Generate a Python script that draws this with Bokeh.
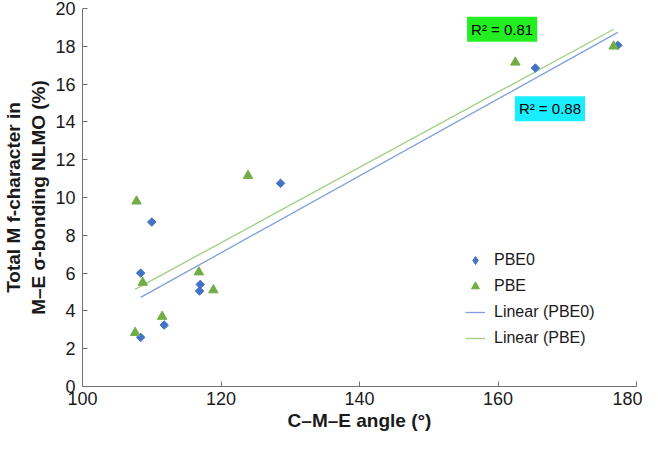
import numpy as np
from bokeh.plotting import figure
from bokeh.models import Range1d, FixedTicker, Label, Legend, LegendItem
from bokeh.embed import file_html
from bokeh.resources import INLINE

# Data
pbe0_angle = [108.4, 108.4, 110.0, 111.8, 116.9, 117.0, 128.6, 165.4, 177.3]
pbe0_fchar = [2.6, 6.0, 8.7, 3.25, 5.05, 5.4, 10.75, 16.85, 18.05]
pbe_angle = [107.6, 107.8, 108.7, 111.5, 116.8, 118.9, 123.9, 162.5, 176.7]
pbe_fchar = [2.85, 9.8, 5.5, 3.7, 6.05, 5.1, 11.15, 17.15, 18.0]
x_ticks = [100, 120, 140, 160, 180]
y_ticks = [0, 2, 4, 6, 8, 10, 12, 14, 16, 18, 20]
r2_pbe = "R² = 0.81"
r2_pbe0 = "R² = 0.88"

FONT = "Liberation Sans"
BLUE = "#4472C4"
GREEN = "#70AD47"
BLUE_LINE = "#7f9fdc"
GREEN_LINE = "#9fcf82"
TXT = "#1a1a1a"

p = figure(width=642, height=433, output_backend="svg", toolbar_location=None,
           x_range=Range1d(100, 180), y_range=Range1d(0, 20),
           min_border_top=8, min_border_right=6, min_border_left=0, min_border_bottom=0)
p.outline_line_color = None
p.grid.visible = False
p.background_fill_color = "white"

for ax in (p.xaxis[0], p.yaxis[0]):
    ax.axis_line_color = "#707070"
    ax.major_tick_line_color = "#707070"
    ax.major_tick_in = 5
    ax.major_tick_out = 0
    ax.minor_tick_line_color = None
    ax.major_label_text_font = FONT
    ax.major_label_text_font_size = "18px"
    ax.major_label_text_color = TXT
    ax.axis_label_text_font = FONT
    ax.axis_label_text_font_size = "19px"
    ax.axis_label_text_font_style = "bold"
    ax.axis_label_text_color = TXT

p.xaxis.ticker = FixedTicker(ticks=x_ticks)
p.yaxis.ticker = FixedTicker(ticks=y_ticks)
p.xaxis.axis_label = "C–M–E angle (°)"
p.yaxis.axis_label = "Total M f-character in\nM–E σ-bonding NLMO (%)"
p.xaxis.major_label_standoff = 5
p.xaxis.axis_label_standoff = 2
p.yaxis.major_label_standoff = 7
p.yaxis.axis_label_standoff = 3

# Linear trend lines (least squares through the data)
def trend(xs, ys):
    m, b = np.polyfit(xs, ys, 1)
    x0, x1 = min(xs), max(xs)
    return [x0, x1], [m * x0 + b, m * x1 + b]

tx0, ty0 = trend(pbe0_angle, pbe0_fchar)
tx1, ty1 = trend(pbe_angle, pbe_fchar)
l_pbe0 = p.line(tx0, ty0, line_color=BLUE_LINE, line_width=1.3)
l_pbe = p.line(tx1, ty1, line_color=GREEN_LINE, line_width=1.3)

s_pbe0 = p.scatter(pbe0_angle, pbe0_fchar, marker="square", angle=np.pi / 4, size=6,
                   fill_color=BLUE, line_color=BLUE)
s_pbe = p.scatter(pbe_angle, pbe_fchar, marker="triangle", size=9.5,
                  fill_color=GREEN, line_color=GREEN)
# legend-only glyph (rotated squares show unrotated in legends)
leg_pbe0 = p.scatter([np.nan], [np.nan], marker="diamond", size=10,
                     fill_color=BLUE, line_color=BLUE)

legend = Legend(items=[
    LegendItem(label="PBE0", renderers=[leg_pbe0]),
    LegendItem(label="PBE", renderers=[s_pbe]),
    LegendItem(label="Linear (PBE0)", renderers=[l_pbe0]),
    LegendItem(label="Linear (PBE)", renderers=[l_pbe]),
], location=(383, 38))
legend.border_line_color = None
legend.background_fill_alpha = 0
legend.padding = 0
legend.margin = 0
legend.spacing = 6
legend.glyph_width = 20
legend.glyph_height = 20
legend.label_height = 20
legend.label_standoff = 9
legend.label_text_font = FONT
legend.label_text_font_size = "16px"
legend.label_text_color = TXT
p.add_layout(legend)

p.add_layout(Label(x=160.6, y=18.9, text=r2_pbe, text_align="center", text_baseline="middle",
                   text_font=FONT, text_font_size="15px", text_color="black",
                   background_fill_color="#22ee22", padding=4))
p.add_layout(Label(x=167.5, y=14.7, text=r2_pbe0, text_align="center", text_baseline="middle",
                   text_font=FONT, text_font_size="15px", text_color="black",
                   background_fill_color="#18eeff", padding=4))

open("out.html", "w").write(file_html(p, INLINE))
